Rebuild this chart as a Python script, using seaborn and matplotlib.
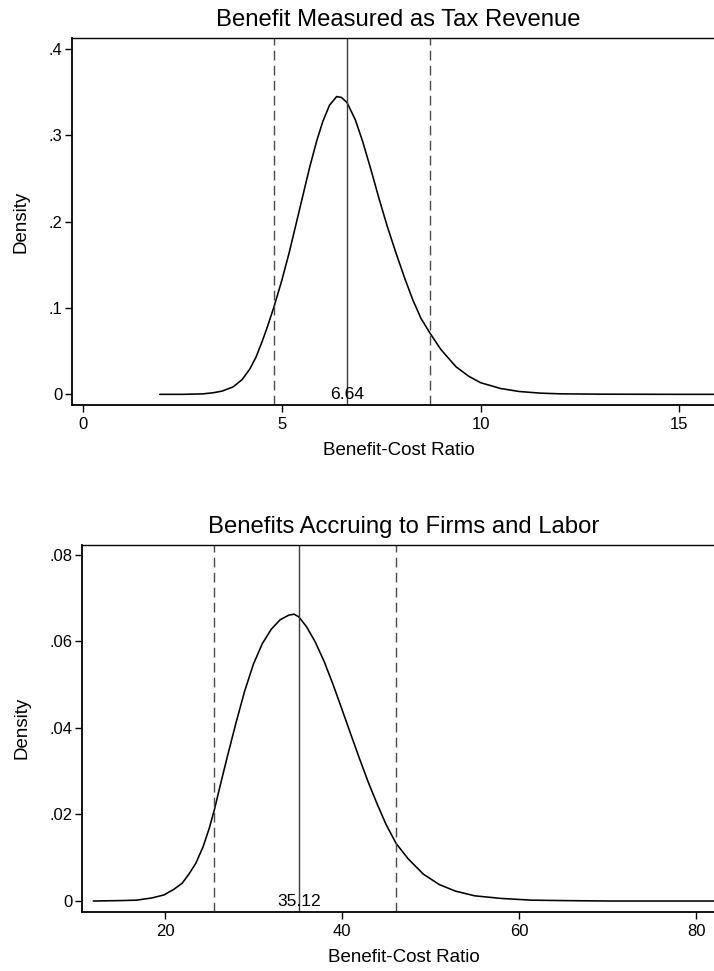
import matplotlib
matplotlib.use("Agg")
import matplotlib.pyplot as plt
import pandas as pd
import seaborn as sns

# ---- Benefit measured as tax revenue: kernel density of the benefit-cost ratio
tax_ratio = [1.93, 2.5, 3.0, 3.27, 3.5, 3.77, 4.0, 4.19, 4.35, 4.52, 4.65, 4.80,
             5.0, 5.19, 5.45, 5.70, 5.88, 6.03, 6.2, 6.38, 6.5, 6.64, 6.85, 7.04,
             7.25, 7.45, 7.65, 7.87, 8.08, 8.29, 8.5, 8.73, 9.0, 9.38, 9.7, 10.0,
             10.5, 10.97, 11.5, 12.0, 13.0, 14.0, 15.0, 16.5]
tax_density = [0.0, 0.0, 0.0005, 0.0018, 0.0038, 0.0085, 0.017, 0.029, 0.043,
               0.063, 0.080, 0.101, 0.132, 0.165, 0.215, 0.263, 0.294, 0.316,
               0.335, 0.345, 0.344, 0.338, 0.318, 0.292, 0.259, 0.226, 0.195,
               0.164, 0.136, 0.110, 0.088, 0.0707, 0.052, 0.032, 0.021, 0.0135,
               0.0068, 0.0033, 0.0014, 0.0006, 0.0002, 0.0001, 0.0, 0.0]
tax_mean = 6.64
tax_bounds = [4.80, 8.73]

# ---- Benefits accruing to firms and labor
firm_ratio = [11.9, 15.0, 16.8, 18.5, 19.88, 21.0, 21.94, 22.7, 23.48, 24.3, 25.0,
              25.57, 26.3, 27.0, 28.0, 29.0, 30.0, 31.0, 32.0, 33.0, 34.0, 34.6,
              35.12, 36.0, 37.0, 38.0, 39.0, 40.0, 41.0, 42.0, 43.0, 44.0, 45.0,
              46.12, 47.5, 49.2, 51.0, 52.8, 55.0, 57.96, 61.4, 65.0, 70.0, 85.0]
firm_density = [0.0, 0.0001, 0.0002, 0.0007, 0.0014, 0.0027, 0.0041, 0.0062,
                0.0087, 0.0125, 0.0168, 0.0210, 0.0272, 0.0330, 0.0410, 0.0485,
                0.0548, 0.0595, 0.0628, 0.0650, 0.0661, 0.0663, 0.0657, 0.0634,
                0.0598, 0.0553, 0.0500, 0.0443, 0.0385, 0.0328, 0.0273, 0.0223,
                0.0176, 0.0133, 0.0097, 0.0062, 0.0038, 0.0023, 0.0012, 0.0006,
                0.0002, 0.0001, 0.0, 0.0]
firm_mean = 35.12
firm_bounds = [25.57, 46.12]

titles = ["Benefit Measured as Tax Revenue", "Benefits Accruing to Firms and Labor"]
x_label = "Benefit-Cost Ratio"
y_label = "Density"
tax_xticks = [0, 5, 10, 15]
tax_yticks = [0, 0.1, 0.2, 0.3, 0.4]
firm_xticks = [20, 40, 60, 80]
firm_yticks = [0, 0.02, 0.04, 0.06, 0.08]

sns.set_style("ticks")
plt.rcParams["font.family"] = ["Liberation Sans", "DejaVu Sans"]
plt.rcParams.update({
    "axes.linewidth": 1.3,
    "xtick.major.width": 1.0,
    "ytick.major.width": 1.0,
    "xtick.major.size": 5,
    "ytick.major.size": 5,
    "xtick.major.pad": 4,
    "ytick.major.pad": 2,
    "xtick.color": "black",
    "ytick.color": "black",
    "axes.edgecolor": "black",
    "text.color": "black",
    "axes.labelcolor": "black",
})

W, H = 714, 971
fig = plt.figure(figsize=(W / 100, H / 100), dpi=100, facecolor="white")


def short_num(v):
    s = f"{v:g}"
    if s.startswith("0."):
        s = s[1:]
    return s


def panel(rect, ratio, density, mean, bounds, title, xticks, yticks, xlim, ylim):
    ax = fig.add_axes(rect)
    df = pd.DataFrame({"ratio": ratio, "density": density})
    sns.lineplot(data=df, x="ratio", y="density", ax=ax, color="black",
                 linewidth=1.15, sort=True)
    lw = 1.0
    for b in bounds:
        ax.axvline(b, color="#4a4a4a", linewidth=lw,
                   linestyle=(0, (7.0 / lw, 3.8 / lw)))
    ax.axvline(mean, color="#3a3a3a", linewidth=lw)
    ax.text(mean, 0, f"{mean:.2f}", ha="center", va="center", fontsize=12.6,
            color="black")
    ax.set_xlim(*xlim)
    ax.set_ylim(*ylim)
    ax.set_xticks(xticks)
    ax.set_yticks(yticks)
    ax.set_yticklabels([short_num(v) for v in yticks])
    ax.tick_params(axis="both", labelsize=12)
    ax.set_xlabel(x_label, fontsize=13.5, labelpad=7)
    ax.set_ylabel(y_label, fontsize=13.5, labelpad=14)
    ax.set_title(title, fontsize=17.2, pad=8.6)
    for s in ax.spines.values():
        s.set_visible(True)
        s.set_color("black")
    ax.spines["top"].set_linewidth(1.0)
    return ax


right = 724.7 / W
# top panel
l1 = 72.3 / W
panel([l1, 1 - 404.7 / H, right - l1, (404.7 - 38.3) / H],
      tax_ratio, tax_density, tax_mean, tax_bounds, titles[0],
      tax_xticks, tax_yticks, (-0.27, 16.14), (-0.0120, 0.4125))

# bottom panel
l2 = 82.3 / W
panel([l2, 1 - 911.7 / H, right - l2, (911.7 - 545.0) / H],
      firm_ratio, firm_density, firm_mean, firm_bounds, titles[1],
      firm_xticks, firm_yticks, (10.66, 83.24), (-0.00247, 0.0823))

fig.savefig("out.png", dpi=100, facecolor="white")
